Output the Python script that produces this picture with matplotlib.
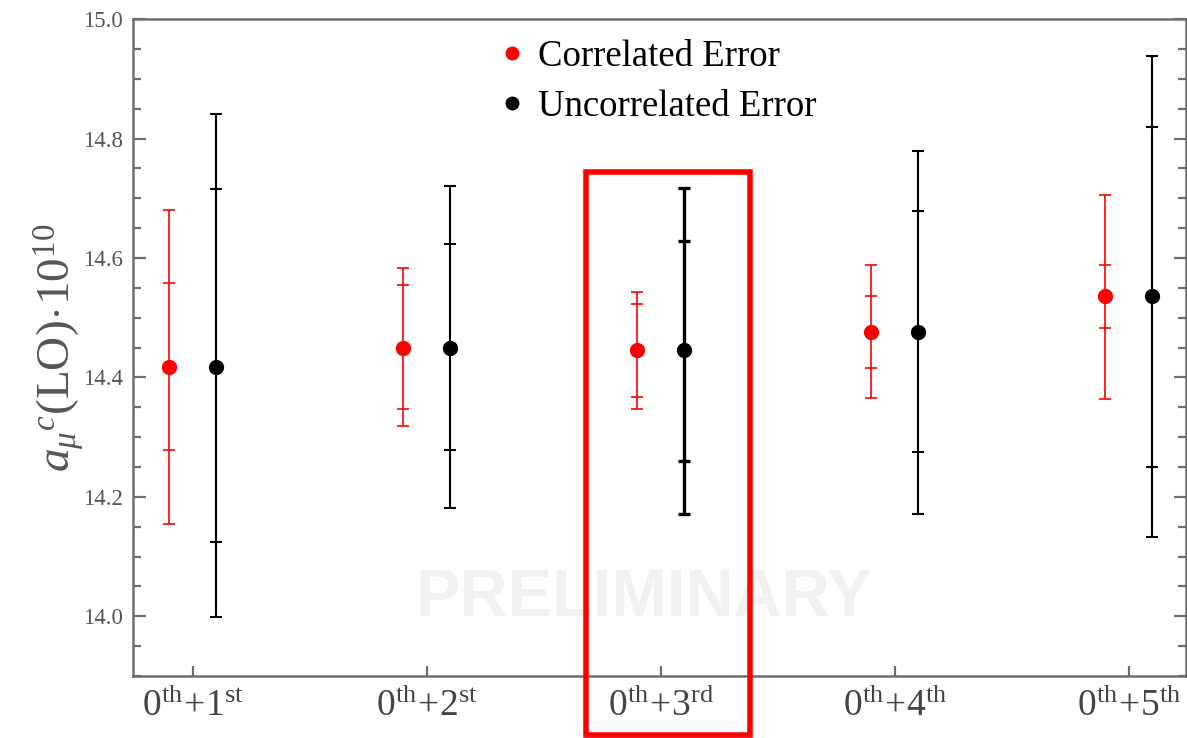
import matplotlib
matplotlib.use("Agg")
import matplotlib.pyplot as plt
import matplotlib.patches as patches
from matplotlib.lines import Line2D
from matplotlib.ticker import MultipleLocator

plt.rcParams['mathtext.fontset'] = 'custom'
plt.rcParams['mathtext.rm'] = 'Liberation Serif'
plt.rcParams['mathtext.it'] = 'Liberation Serif:italic'
plt.rcParams['font.family'] = ['Liberation Serif', 'DejaVu Serif']

# data
labels = [r'$0^{\mathrm{th}}\!+\!1^{\mathrm{st}}$', r'$0^{\mathrm{th}}\!+\!2^{\mathrm{st}}$',
          r'$0^{\mathrm{th}}\!+\!3^{\mathrm{rd}}$', r'$0^{\mathrm{th}}\!+\!4^{\mathrm{th}}$',
          r'$0^{\mathrm{th}}\!+\!5^{\mathrm{th}}$']
center = [14.417, 14.449, 14.446, 14.476, 14.536]

corr_outer_lo = [14.155, 14.319, 14.347, 14.366, 14.364]
corr_outer_hi = [14.681, 14.583, 14.543, 14.588, 14.706]
corr_inner_lo = [14.279, 14.347, 14.367, 14.416, 14.482]
corr_inner_hi = [14.559, 14.554, 14.523, 14.536, 14.588]

unc_outer_lo = [13.998, 14.182, 14.172, 14.172, 14.132]
unc_outer_hi = [14.841, 14.720, 14.718, 14.780, 14.938]
unc_inner_lo = [14.124, 14.279, 14.260, 14.275, 14.250]
unc_inner_hi = [14.715, 14.623, 14.628, 14.678, 14.820]

x = [1, 2, 3, 4, 5]
black_lw = [1.5, 1.5, 2.4, 1.5, 1.5]

gray = '#6e6e6e'

fig = plt.figure(figsize=(11.87, 7.38), dpi=100)
ax = fig.add_axes([0.112, 0.084, 0.887, 0.890])


def bars(ax, xs, c, lo, hi, color, lw, line=True):
    for xi, ci, l, h, w in zip(xs, c, lo, hi, lw):
        ax.errorbar([xi], [ci], yerr=[[ci - l], [h - ci]], fmt='none',
                    ecolor=color, elinewidth=w if line else 0,
                    capsize=4.5, capthick=w, zorder=3)


xr = [v - 0.1 for v in x]
xb = [v + 0.1 for v in x]
red_lw = [1.2] * 5

bars(ax, xr, center, corr_outer_lo, corr_outer_hi, 'red', red_lw)
bars(ax, xr, center, corr_inner_lo, corr_inner_hi, 'red', red_lw, line=False)
bars(ax, xb, center, unc_outer_lo, unc_outer_hi, 'black', black_lw)
bars(ax, xb, center, unc_inner_lo, unc_inner_hi, 'black', black_lw, line=False)
ax.plot(xr, center, 'o', color='red', ms=10, zorder=4)
ax.plot(xb, center, 'o', color='black', ms=10, zorder=4)

ax.text(0.485, 0.118, 'PRELIMINARY', transform=ax.transAxes, ha='center', va='center',
        fontsize=48, fontweight='bold', family='Liberation Sans', color='#f1f1f1', zorder=0)

ax.set_xlim(0.744, 5.244)
ax.set_ylim(13.9, 15.0)
ax.set_xticks(x)
ax.set_xticklabels(labels, fontsize=27, color='#444444')
ax.yaxis.set_major_locator(MultipleLocator(0.2))
ax.yaxis.set_minor_locator(MultipleLocator(0.05))
ax.set_yticks([14.0, 14.2, 14.4, 14.6, 14.8, 15.0])
ax.set_yticklabels(['14.0', '14.2', '14.4', '14.6', '14.8', '15.0'], fontsize=16.5, color='#555555')
ax.tick_params(axis='both', which='both', direction='in', color=gray, width=1.6,
               right=True, top=False)
ax.tick_params(axis='y', which='major', length=9, pad=7)
ax.tick_params(axis='y', which='minor', length=6)
ax.tick_params(axis='x', which='major', length=7, pad=9)
for s in ax.spines.values():
    s.set_color(gray)
    s.set_linewidth(1.8)

ax.set_ylabel(r'$a_{\mu}{}^{c}\mathrm{(LO)}\!\cdot\!10^{10}$', fontsize=34, color='#555555',
              labelpad=-2)

handles = [Line2D([], [], marker='o', color='red', ls='none', ms=9),
           Line2D([], [], marker='o', color='black', ls='none', ms=9)]
ax.legend(handles, ['Correlated Error', 'Uncorrelated Error'], loc='upper center',
          bbox_to_anchor=(0.494, 1.0), frameon=False, fontsize=26.5, handletextpad=0.1,
          handlelength=1.2, labelspacing=0.42, borderaxespad=0.15)

rect = patches.Rectangle((586 / 1187, 1 - 735 / 738), (750 - 586) / 1187, (735 - 172) / 738,
                         transform=fig.transFigure, fill=False, edgecolor='red',
                         linewidth=4, clip_on=False, zorder=10)
fig.patches.append(rect)

fig.savefig('out.png', dpi=100)
